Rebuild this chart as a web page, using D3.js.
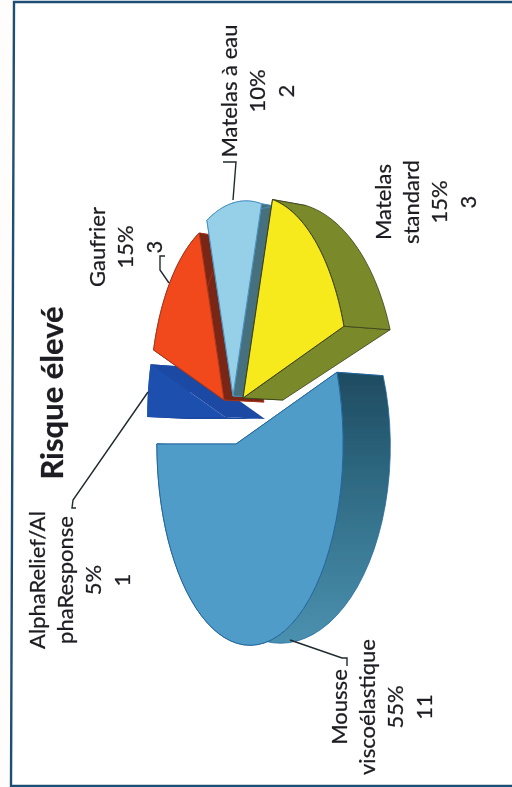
<!DOCTYPE html>
<html>
<head>
<meta charset="utf-8">
<script src="https://cdn.jsdelivr.net/npm/d3@7/dist/d3.min.js"></script>
<style>
html,body{margin:0;padding:0;background:#fffdfc;}
svg{display:block;}
text{font-family:Lato,"Open Sans",sans-serif;fill:#1d1d22;stroke:#1d1d22;stroke-width:0.25px;}
</style>
</head>
<body>
<svg id="chart" width="512" height="787"></svg>
<script>
// ---- data ----
const chartTitle = "Risque élevé";
const categories = ["Mousse viscoélastique", "AlphaRelief/AlphaResponse", "Gaufrier", "Matelas à eau", "Matelas standard"];
const labelLines = [["Mousse", "viscoélastique"], ["AlphaRelief/Al", "phaResponse"], ["Gaufrier"], ["Matelas à eau"], ["Matelas", "standard"]];
const counts = [11, 1, 3, 2, 3];
const percents = ["55%", "5%", "15%", "10%", "15%"];

// ---- styles ----
const faceColors = ["#4f9cc9", "#1f4fae", "#f2481e", "#95d0e8", "#f6e91c"];
const wallColors = ["#2f6f8c", "#1e4aa4", "#7a2612", "#47707f", "#7a8a2c"];
const edgeColors = ["#24689f", "#1c3f90", "#a8361a", "#4a93c4", "#3a3f1a"];

// ---- layout: per slice explosion and radius, label anchors ----
const sliceCenter = [[236, 444], [225, 417], [224, 400], [233, 396], [243, 398]];
const sliceRadius = [1, 0.98, 0.92, 0.97, 1];
const labelAnchor = [[347, 707], [45, 580], [105, 247], [237, 91], [391, 202]];
const lineStep = 28;
const leaders = [
  [[290, 640], [342, 658], [347, 658], [347, 666]],
  [[148, 392], [73, 500], [72, 508], [76, 508]],
  [[169, 283], [160, 270], [160, 256], [165, 256]],
  [[233, 200], [236, 162], [223, 162]],
  null
];
const drawOrder = [1, 2, 3, 4, 0];

const svg = d3.select("#chart");
const defs = svg.append("defs");
defs.append("filter").attr("id", "scan").attr("x", "-5%").attr("y", "-5%").attr("width", "110%").attr("height", "110%")
  .append("feGaussianBlur").attr("stdDeviation", 0.45);
const grad = defs.append("linearGradient").attr("id", "mousseWall")
  .attr("gradientUnits", "userSpaceOnUse").attr("x1", 0).attr("x2", 0).attr("y1", 380).attr("y2", 640);
grad.append("stop").attr("offset", 0).attr("stop-color", "#1f4d63");
grad.append("stop").attr("offset", 0.4).attr("stop-color", "#2f6a83");
grad.append("stop").attr("offset", 1).attr("stop-color", "#4a90ae");

const root = svg.append("g").attr("filter", "url(#scan)");

// page frame
root.append("path")
  .attr("d", d3.line()([[512, 2], [14, 2], [11, 786], [512, 786]]))
  .attr("fill", "#ffffff").attr("stroke", "#1f4f73").attr("stroke-width", 2.4);

// perspective ellipse projection of a unit disc lying in the page
const A = 91, B = 199, K = 0.15, APEX_DEPTH = 40, RIM_DEPTH = 28;
const deg = Math.PI / 180;
function proj(theta, r) {
  const u = r * Math.cos(theta), v = r * Math.sin(theta), w = 1 - K * u;
  return [A * u / w, B * v / w];
}
const front = (c, p) => [c[0] + p[0], c[1] + p[1]];
const backRim = (c, p) => [c[0] + RIM_DEPTH + 0.18 * Math.abs(p[0]) + p[0], c[1] + 2 + p[1] * 0.98];
const backApex = c => [c[0] + APEX_DEPTH, c[1] + 2];

const arcs = d3.pie().sort(null).startAngle(-18 * deg).endAngle(342 * deg)(counts);
const line = d3.line();

function rim(a0, a1, r) {
  const n = 48;
  return d3.range(n + 1).map(i => proj(a0 + (a1 - a0) * i / n, r));
}

const slices = root.selectAll("g.slice")
  .data(drawOrder.map(i => ({ i, arc: arcs[i] })))
  .join("g").attr("class", "slice");

slices.each(function (d) {
  const g = d3.select(this), c = sliceCenter[d.i], r = sliceRadius[d.i];
  const pts = rim(d.arc.startAngle, d.arc.endAngle, r);
  const wall = d.i === 0 ? "url(#mousseWall)" : wallColors[d.i];
  const first = pts[0], last = pts[pts.length - 1];
  const zero = [0, 0];
  // radial cut walls
  [first, last].forEach(p => {
    g.append("path")
      .attr("d", line([front(c, zero), backApex(c), backRim(c, p), front(c, p)]) + "Z")
      .attr("fill", wallColors[d.i]).attr("stroke", d.i === 1 ? "none" : edgeColors[d.i]).attr("stroke-width", 0.8);
  });
  // outer curved wall
  const strip = pts.map(p => backRim(c, p)).concat(pts.slice().reverse().map(p => front(c, p)));
  g.append("path").attr("d", line(strip) + "Z")
    .attr("fill", wall).attr("stroke", d.i === 1 ? "none" : edgeColors[d.i]).attr("stroke-width", 0.8);
  // top face
  const face = [zero].concat(pts).map(p => front(c, p));
  g.append("path").attr("d", line(face) + "Z")
    .attr("fill", faceColors[d.i]).attr("stroke", d.i === 1 ? "none" : edgeColors[d.i]).attr("stroke-width", 1);
});

// leader lines
root.selectAll("path.leader").data(leaders.filter(Boolean)).join("path")
  .attr("class", "leader").attr("d", d => line(d))
  .attr("fill", "none").attr("stroke", "#1f2a2e").attr("stroke-width", 1.4);

// labels (rotated a quarter turn, as in the scanned page)
function vtext(x, y, str, size, weight) {
  root.append("text")
    .attr("transform", `translate(${x},${y}) rotate(-90)`)
    .attr("text-anchor", "middle")
    .attr("font-size", size).attr("font-weight", weight || 400)
    .text(str);
}
categories.forEach((cat, i) => {
  const [x, y] = labelAnchor[i];
  const rows = labelLines[i].concat([percents[i], String(counts[i])]);
  rows.forEach((s, k) => vtext(x + k * lineStep + (k === rows.length - 1 ? 1 : 0), y, s, 22));
});

vtext(63, 393, chartTitle, 31, 700);
</script>
</body>
</html>
